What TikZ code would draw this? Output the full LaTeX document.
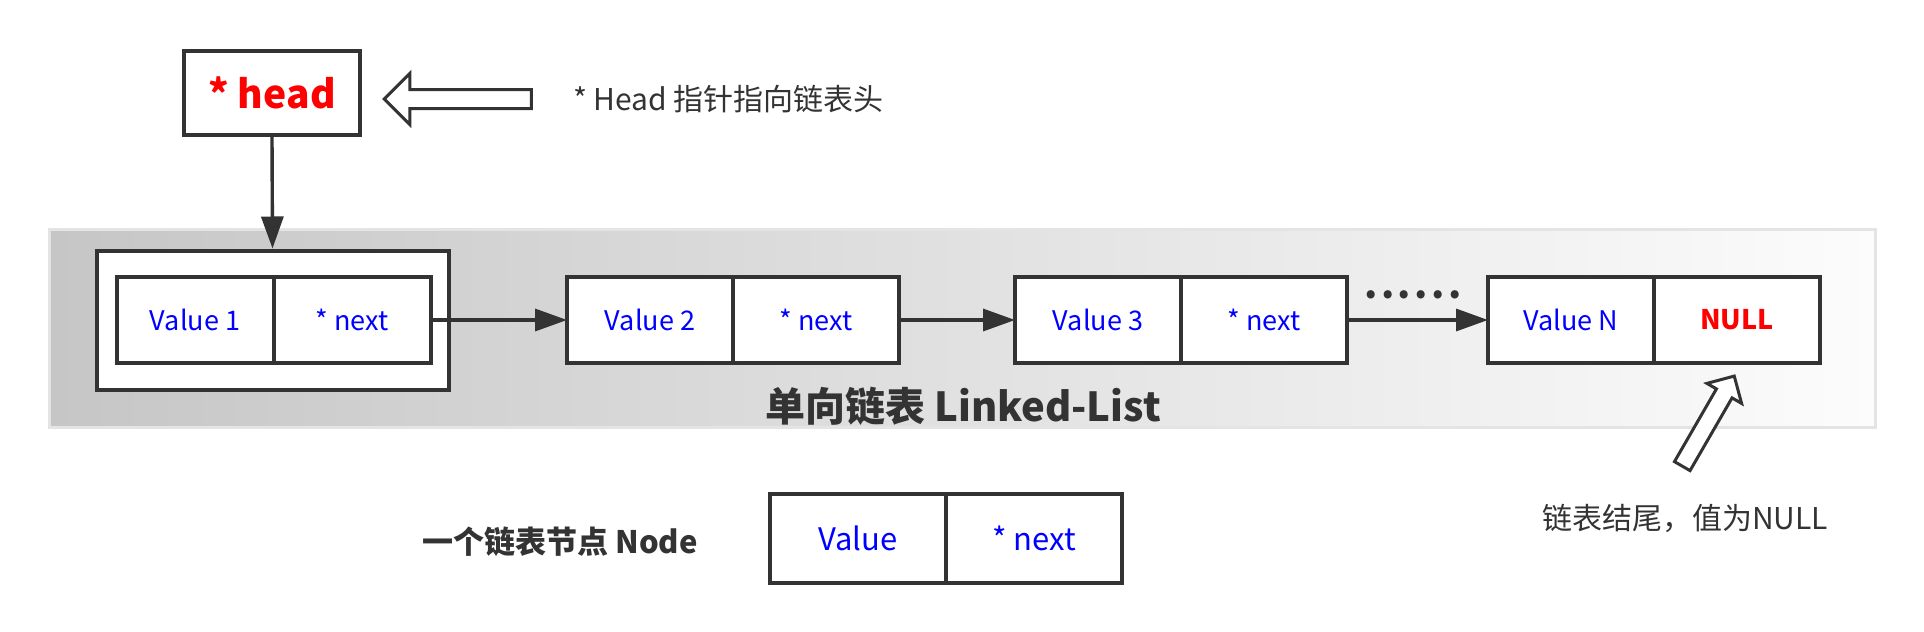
\documentclass[tikz,border=0pt]{standalone}
\usepackage{fontspec}
\setmainfont{Noto Sans CJK SC}
\usetikzlibrary{arrows.meta,positioning,shapes.arrows}
\definecolor{ink}{HTML}{333333}
\definecolor{bandl}{HTML}{C6C6C6}
\definecolor{bandr}{HTML}{FCFCFC}
\definecolor{bandline}{HTML}{E4E4E4}
\newcommand\fs[1]{\fontsize{#1}{1.2\dimexpr#1pt\relax}\selectfont}

\begin{document}
\begin{tikzpicture}[x=0.5pt,y=-0.5pt, every node/.style={font=\fs{13.5},text=ink},
 cell/.style={draw=ink,fill=white,line width=2pt,outer sep=0pt,minimum width=83pt,minimum height=43pt,text=blue},
 arr/.style={-{Triangle[length=16pt,width=11pt]},line width=1.7pt,draw=ink},
 hollow/.style={single arrow,draw=ink,fill=white,line width=1.5pt,outer sep=0pt,single arrow tip angle=90}]
\useasboundingbox (0,0) rectangle (1924,632);
% band behind the list
\path[draw=bandline,line width=1.5pt,left color=bandl,right color=bandr] (49,229) rectangle (1875,427);
\node[font=\bfseries\fs{20}] (title) at (963,406) {单向链表 Linked-List};

% head pointer
\node[draw=ink,line width=2pt,minimum width=88pt,minimum height=42pt,text=red,font=\bfseries\fs{19.5}] (head) at (272,93) {* head};
\node[hollow,rotate=180,inner sep=4pt,single arrow head extend=8pt,minimum height=73.5pt] (headptr) at (462.5,99) {};
\node[anchor=west,font=\fs{15}] (headnote) at (566,99) {* Head 指针指向链表头};

% list nodes
\node[draw=ink,fill=white,line width=2pt,minimum width=176pt,minimum height=69.5pt] (wrap) at (272.5,320) {};
\node[cell,minimum width=78.5pt] (v1) at (195,320) {Value 1};
\node[cell,minimum width=78.5pt,right=0pt of v1] (n1) {* next};
\node[cell] (v2) at (650,320) {Value 2};
\node[cell,right=0pt of v2] (n2) {* next};
\node[cell] (v3) at (1098,320) {Value 3};
\node[cell,right=0pt of v3] (n3) {* next};
\node[cell] (vN) at (1571,320) {Value N};
\node[cell,right=0pt of vN,text=red,font=\bfseries\fs{13.5}] (nN) {NULL};
\node[font=\bfseries\fs{19}] (dots) at (1413,295) {\addfontfeature{LetterSpace=9}......};

\draw[arr] (head.south) -- (wrap.north);
\draw[arr] (n1) -- (v2);
\draw[arr] (n2) -- (v3);
\draw[arr] (n3) -- (vN);

% list end
\node[hollow,rotate=60,inner sep=3.75pt,single arrow head extend=5.5pt,minimum height=52pt] (tailptr) at (1706,425) {};
\node[font=\fs{15}] (tailnote) at (1685,518) {链表结尾，值为NULL};

% legend
\node[font=\bfseries\fs{15.5}] (legend) at (560,542) {一个链表节点 Node};
\node[cell,minimum width=88pt,minimum height=44.5pt,font=\fs{15.5}] (val) at (858,538) {Value};
\node[cell,minimum width=88pt,minimum height=44.5pt,font=\fs{15.5},right=0pt of val] (nxt) {* next};
\end{tikzpicture}
\end{document}
